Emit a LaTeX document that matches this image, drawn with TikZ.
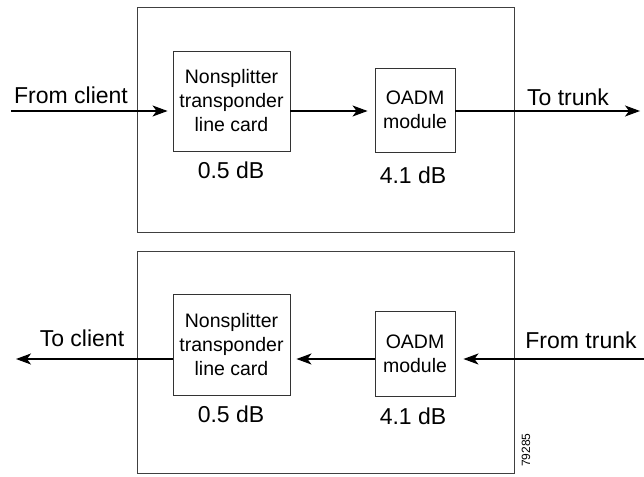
\documentclass[tikz,border=0pt]{standalone}
\usepackage{fontspec}
\setmainfont{Liberation Sans}
\usetikzlibrary{arrows.meta}
\begin{document}
\begin{tikzpicture}[x=1pt,y=-1pt,
  frame/.style={draw=black!75, line width=0.9pt},
  unit/.style={draw=black!80, line width=0.9pt, inner sep=0pt, align=center, font=\fontsize{19.5}{24}\selectfont},
  lbl/.style={inner sep=0pt, font=\fontsize{23}{27}\selectfont},
  arr/.style={draw=black, line width=1.2pt, -{Stealth[length=15pt,width=11pt,inset=4pt]}},
]
\useasboundingbox (0,0) rectangle (644,476);
% outer frames
\draw[frame] (137,7) rectangle (514,232);
\draw[frame] (137,251) rectangle (514,473);
% top row
\node[unit, minimum width=117, minimum height=100] (ns1) at (231.5,101) {Nonsplitter\\transponder\\line card};
\node[unit, minimum width=80, minimum height=84] (oa1) at (415,110) {OADM\\module};
\node[lbl] (db1) at (231,170) {0.5 dB};
\node[lbl] (db2) at (413,175) {4.1 dB};
\node[lbl] (fc) at (71,95) {From client};
\node[lbl] (tt) at (568,97) {To trunk};
\coordinate (cin) at (11,111);
\coordinate (tout) at (640,111);
\draw[arr, shorten >=5pt] (cin) -- (ns1.west |- cin);
\draw[arr, shorten >=7pt] (ns1.east |- cin) -- (oa1.west |- cin);
\draw[arr] (oa1.east |- cin) -- (tout);
% bottom row
\node[unit, minimum width=117, minimum height=101] (ns2) at (231.5,344.5) {Nonsplitter\\transponder\\line card};
\node[unit, minimum width=80, minimum height=85] (oa2) at (415,353.5) {OADM\\module};
\node[lbl] (db3) at (231,414) {0.5 dB};
\node[lbl] (db4) at (413,416) {4.1 dB};
\node[lbl] (tc) at (82,338) {To client};
\node[lbl] (ft) at (581,340) {From trunk};
\coordinate (tin) at (644,359);
\coordinate (cout) at (16,359);
\draw[arr, shorten >=8pt] (tin) -- (oa2.east |- tin);
\draw[arr, shorten >=6pt] (oa2.west |- tin) -- (ns2.east |- tin);
\draw[arr] (ns2.west |- tin) -- (cout);
\node[inner sep=0pt, rotate=90, font=\fontsize{12}{14}\selectfont] (fig) at (526,450) {79285};
\end{tikzpicture}
\end{document}
